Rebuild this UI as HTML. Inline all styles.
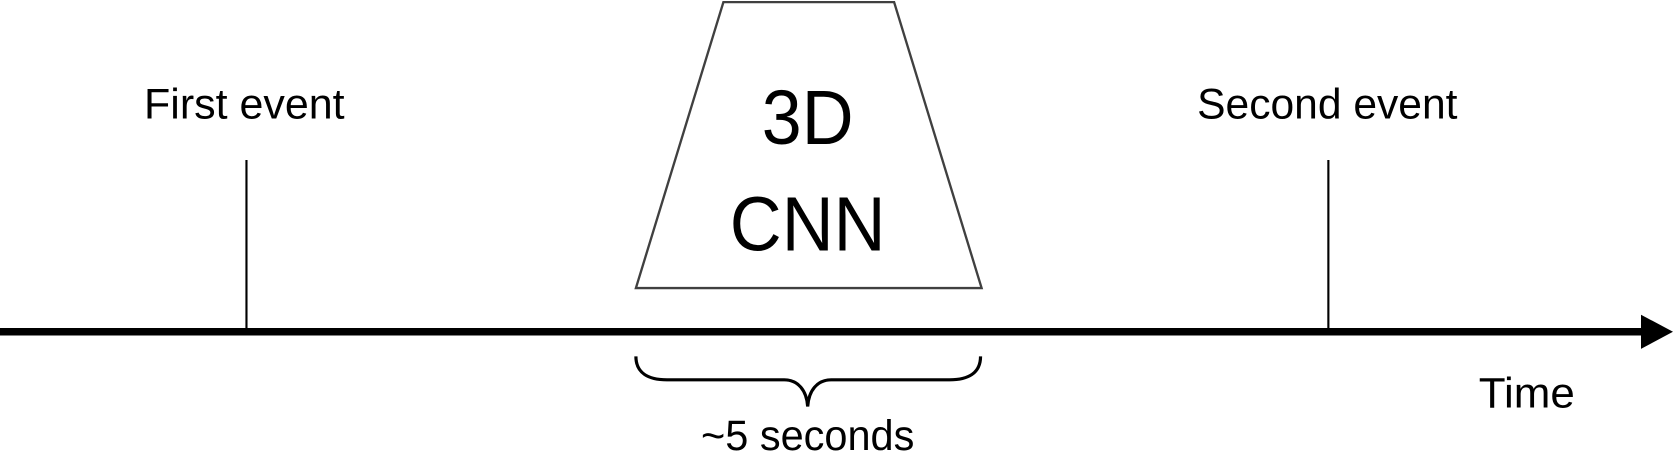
<!DOCTYPE html>
<html><head><meta charset="utf-8"><style>
html,body{margin:0;padding:0;background:#fff;width:1673px;height:455px;overflow:hidden}
svg{display:block}
text{font-family:"Liberation Sans",sans-serif;fill:#000}
</style></head><body>
<svg width="1673" height="455" viewBox="0 0 1568 426.5" preserveAspectRatio="none">
<polygon points="678,2 838,2 920,270 596,270" fill="#fff" stroke="#404040" stroke-width="2.2"/>
<text x="757" y="135" font-size="72" text-anchor="middle" textLength="86" lengthAdjust="spacingAndGlyphs">3D</text>
<text x="757" y="235" font-size="72" text-anchor="middle" textLength="146" lengthAdjust="spacingAndGlyphs">CNN</text>
<line x1="231" y1="150" x2="231" y2="309" stroke="#000" stroke-width="2"/>
<line x1="1245" y1="150" x2="1245" y2="309" stroke="#000" stroke-width="2"/>
<text x="229" y="111" font-size="40" text-anchor="middle" textLength="188" lengthAdjust="spacingAndGlyphs">First event</text>
<text x="1244" y="111" font-size="40" text-anchor="middle" textLength="244" lengthAdjust="spacingAndGlyphs">Second event</text>
<line x1="0" y1="311" x2="1542" y2="311" stroke="#000" stroke-width="7"/>
<polygon points="1538,295 1568,311 1538,327" fill="#000"/>
<text x="1431" y="382" font-size="40" text-anchor="middle" textLength="90" lengthAdjust="spacingAndGlyphs">Time</text>
<path d="M596,334 C596,350 608,356 625,356 L735,356 C748,356 756,366 757,381 C758,366 766,356 779,356 L890,356 C907,356 919,350 919,334" fill="none" stroke="#000" stroke-width="3"/>
<text x="757" y="422" font-size="40" text-anchor="middle" textLength="200" lengthAdjust="spacingAndGlyphs">~5 seconds</text>
</svg>
</body></html>
